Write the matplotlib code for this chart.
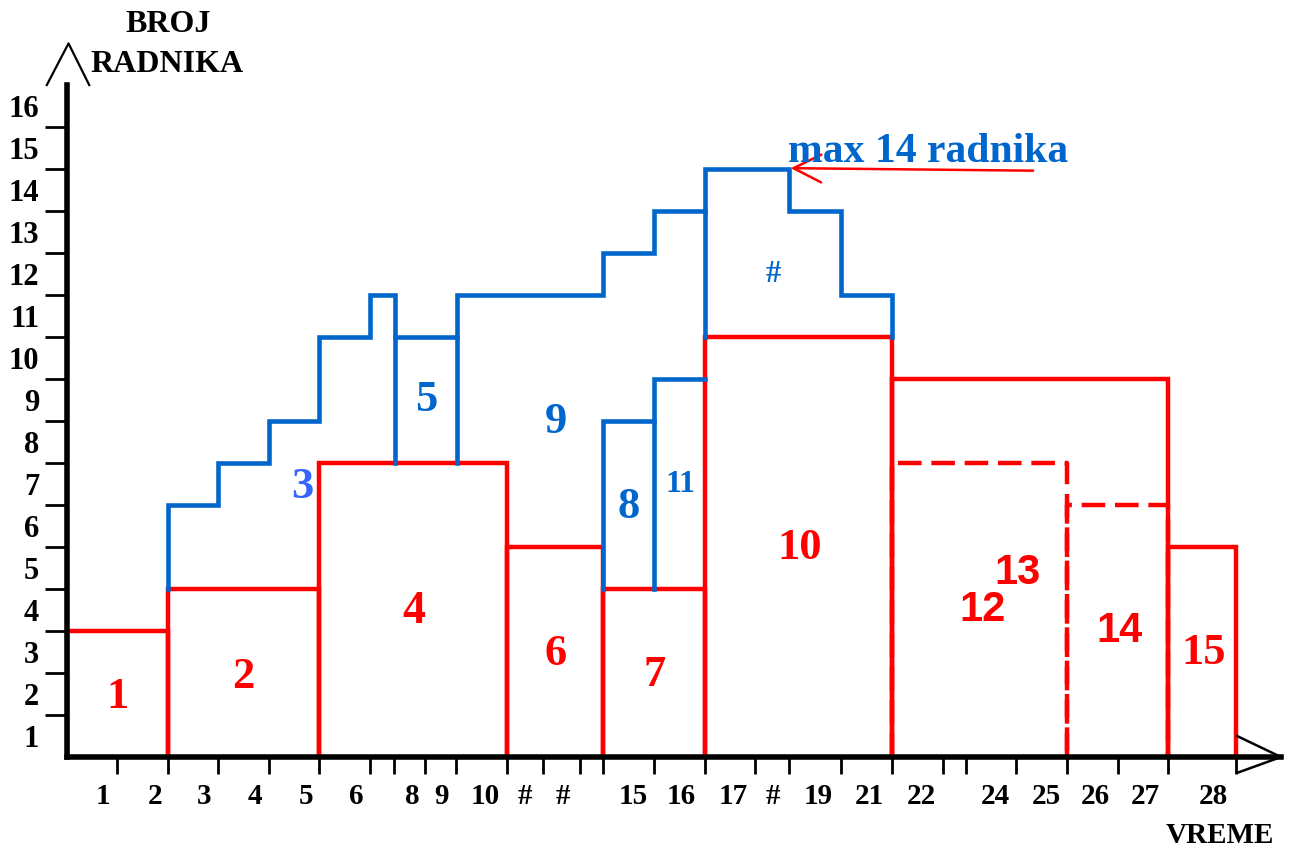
import matplotlib.pyplot as plt
from matplotlib.patches import FancyArrowPatch

# x is in "time units" (the original axis is hand spaced)
# red blocks: start, end, workers, dashed?
red_x0 = [0, 2, 5, 8.71, 10.61, 12.63, 16.34, 16.34, 19.8, 21.8]
red_x1 = [2, 5, 8.71, 10.61, 12.63, 16.34, 21.8, 19.8, 21.8, 23.15]
red_h = [3, 4, 7, 5, 4, 10, 9, 7, 6, 5]
red_dashed = [False, False, False, False, False, False, False, True, True, False]

# blue step outlines (x points, y points)
blue_paths = [
    ([2, 2, 3, 3, 4, 4, 5, 5, 6, 6, 6.5, 6.5],
     [4, 6, 6, 7, 7, 8, 8, 10, 10, 11, 11, 7]),
    ([6.5, 7.72], [10, 10]),
    ([7.72, 7.72, 10.61, 10.61, 11.62, 11.62, 12.63, 12.63, 14.3, 14.3, 15.32, 15.32, 16.34, 16.34],
     [7, 11, 11, 12, 12, 13, 13, 14, 14, 13, 13, 11, 11, 10]),
    ([12.63, 12.63], [10, 13]),
    ([10.61, 10.61, 11.62], [4, 8, 8]),
    ([11.62, 11.62, 12.63], [4, 9, 9]),
]

# activity labels: text, x, y, colour, size, sans?
act_text = ['1', '2', '4', '6', '7', '10', '12', '13', '14', '15',
            '3', '5', '9', '8', '11', '#']
act_x = [1.0, 3.5, 6.87, 9.68, 11.64, 14.51, 18.12, 18.82, 20.85, 22.5,
         4.65, 7.12, 9.68, 11.13, 12.15, 13.99]
act_y = [1.42, 1.9, 3.46, 2.45, 1.95, 4.98, 3.5, 4.39, 3.0, 2.48,
         6.44, 8.5, 7.98, 5.96, 6.48, 11.5]
act_col = ['#ff0000'] * 10 + ['#3366ff', '#0066cc', '#0066cc', '#0066cc', '#0066cc', '#0066cc']
act_size = [32, 32, 33, 32, 32, 32, 30, 30, 30, 32, 32, 32, 32, 32, 23, 22]
act_sans = [False] * 6 + [True, True, True] + [False] * 7

# axis ticks and their labels
tick_x = [1, 2, 3, 4, 5, 6, 6.48, 7.08, 7.7, 8.71, 9.42, 10.16, 10.61, 11.62,
          12.63, 13.63, 14.3, 15.32, 16.34, 17.35, 17.8, 18.79, 19.8, 20.81, 21.8, 23.15]
label_x = [0.72, 1.74, 2.72, 3.72, 4.73, 5.72, 6.83, 7.41, 8.28, 9.07, 9.82, 11.21,
           12.17, 13.2, 13.98, 14.87, 15.88, 16.91, 18.38, 19.4, 20.37, 21.36, 22.71]
label_text = ['1', '2', '3', '4', '5', '6', '8', '9', '10', '#', '#', '15',
              '16', '17', '#', '19', '21', '22', '24', '25', '26', '27', '28']
tick_y = list(range(1, 16))
label_y = [k - 0.5 for k in range(1, 17)]
label_y_text = [str(k) for k in range(1, 17)]

plt.rcParams['font.family'] = ['Liberation Serif', 'DejaVu Serif']
plt.rcParams['font.weight'] = 'bold'

fig = plt.figure(figsize=(12.93, 8.47), dpi=100)
ax = fig.add_axes([67 / 1293, 90 / 847, 1214 / 1293, 672 / 847])
ax.set_xlim(0, 24.04)
ax.set_ylim(0, 16)

for s in ['top', 'right']:
    ax.spines[s].set_visible(False)
for s in ['left', 'bottom']:
    ax.spines[s].set_linewidth(4)
    ax.spines[s].set_capstyle('projecting')

ax.set_xticks(tick_x)
ax.set_xticklabels([])
ax.set_xticks(label_x, minor=True)
ax.set_xticklabels(label_text, minor=True, fontsize=21, fontweight='bold')
ax.set_yticks(tick_y)
ax.set_yticklabels([])
ax.set_yticks(label_y, minor=True)
ax.set_yticklabels(label_y_text, minor=True, fontsize=22, fontweight='bold')
ax.tick_params(axis='x', which='major', length=12, width=2)
ax.tick_params(axis='x', which='minor', length=0, pad=19)
ax.tick_params(axis='y', which='major', length=16, width=2)
ax.tick_params(axis='y', which='minor', length=0, pad=20)

# red activity blocks
for x0, x1, h, d in zip(red_x0, red_x1, red_h, red_dashed):
    ls = (0, (5.3, 2.2)) if d else '-'
    ax.plot([x0, x0, x1, x1], [0, h, h, 0], color='#ff0000', lw=3.2, ls=ls,
            solid_joinstyle='miter', solid_capstyle='butt', zorder=2)

# blue outline
for bx, by in blue_paths:
    ax.plot(bx, by, color='#0066cc', lw=3.3, solid_joinstyle='miter',
            solid_capstyle='projecting', zorder=2)

for t, x, y, c, fs, sans in zip(act_text, act_x, act_y, act_col, act_size, act_sans):
    fam = ['Liberation Sans', 'DejaVu Sans'] if sans else ['Liberation Serif', 'DejaVu Serif']
    ax.text(x, y, t, color=c, fontsize=fs, fontweight='bold', family=fam,
            ha='center', va='center')

# peak annotation
ax.text(14.28, 14.17, 'max 14 radnika', color='#0066cc', fontsize=30,
        fontweight='bold', ha='left', va='baseline')
ax.add_patch(FancyArrowPatch((19.13, 13.96), (14.33, 14.02),
                             arrowstyle='->,head_length=0.5,head_width=0.25',
                             mutation_scale=40, color='#ff0000', lw=1.8,
                             shrinkA=0, shrinkB=0, clip_on=False))

# axis arrows
ax.plot([-0.40, 0.03, 0.44], [16.0, 16.99, 16.0], color='black', lw=1.6, clip_on=False)
ax.plot([23.17, 24.04, 23.19], [0.5, 0, -0.37], color='black', lw=1.8, clip_on=False)

ax.text(2.0, 17.43, 'BROJ', fontsize=23, fontweight='bold', ha='center', va='center')
ax.text(1.98, 16.48, 'RADNIKA', fontsize=23, fontweight='bold', ha='center', va='center')
ax.text(22.82, -1.86, 'VREME', fontsize=21, fontweight='bold', ha='center', va='center')

fig.savefig('out.png', dpi=100)
